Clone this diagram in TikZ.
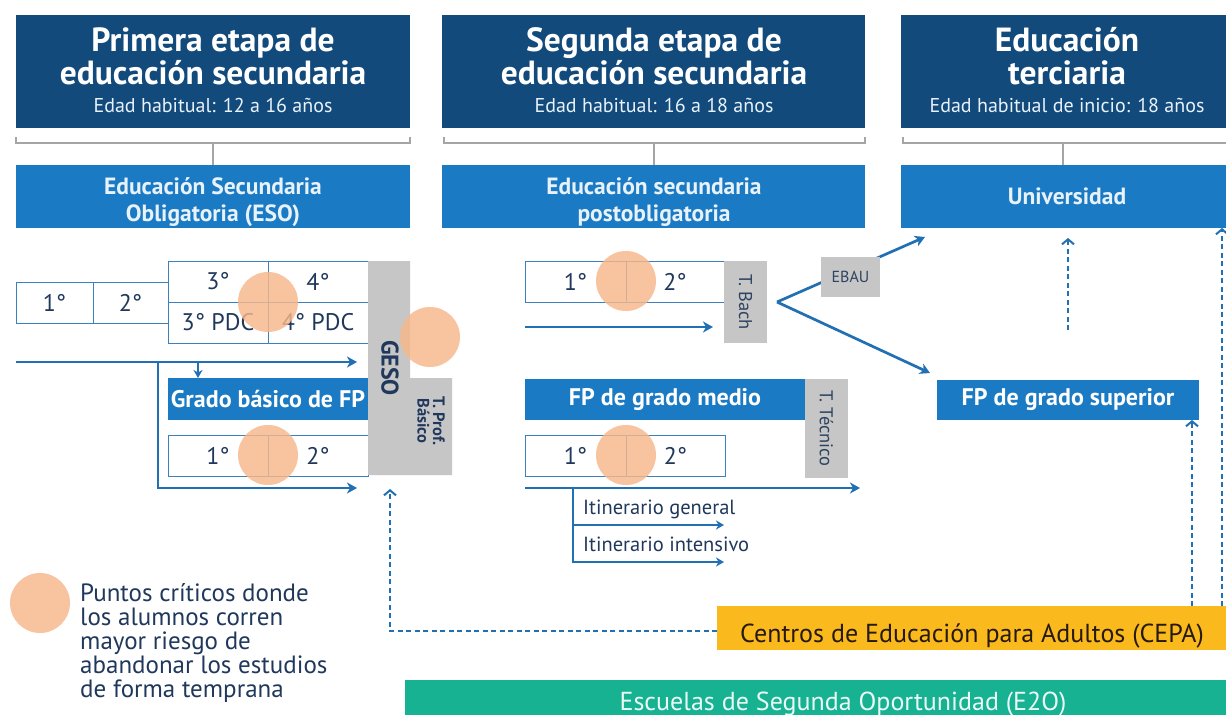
\documentclass[tikz,border=0pt]{standalone}
\usepackage{fontspec}
\setmainfont{PT Sans}
\usetikzlibrary{arrows.meta,calc}
\definecolor{navy}{RGB}{18,74,124}
\definecolor{mblue}{RGB}{27,122,196}
\definecolor{arrowblue}{RGB}{33,112,180}
\definecolor{cellline}{RGB}{60,128,192}
\definecolor{gbar}{RGB}{198,198,198}
\definecolor{corange}{RGB}{247,184,138}
\definecolor{cyellow}{RGB}{250,185,28}
\definecolor{cteal}{RGB}{22,178,146}
\definecolor{txtnavy}{RGB}{32,56,92}
\definecolor{brgray}{RGB}{165,165,165}
\definecolor{subtxt}{RGB}{232,242,250}
\newcommand\mybox[6]{%
  \node[#1, minimum width={(#5-#3)*1pt}, minimum height={(#6-#4)*1pt},
        anchor=north west, inner sep=0pt, outer sep=0pt] (#2) at (#3,#4) {};}
\begin{document}
\begin{tikzpicture}[x=1pt,y=-1pt,
  hdr/.style={fill=navy},
  sub/.style={fill=mblue},
  cell/.style={draw=cellline, line width=1pt, fill=white},
  gbox/.style={fill=gbar},
  flow/.style={draw=arrowblue, line width=2.7pt, -{Stealth[length=10pt,width=11pt,inset=3pt]}},
  sflow/.style={draw=arrowblue, line width=2.3pt, -{Stealth[length=8pt,width=9pt,inset=2.5pt]}},
  dflow/.style={draw=arrowblue, line width=1.8pt, dash pattern=on 5pt off 3.5pt,
        -{Straight Barb[length=5pt,width=12pt,line width=2pt]}},
  crit/.style={fill=corange, fill opacity=0.82},
  bracket/.style={draw=brgray, line width=1.5pt},
  ttl/.style={text=white, font=\bfseries\fontsize{33.5}{36}\selectfont, anchor=base, inner sep=0pt},
  age/.style={text=subtxt, font=\fontsize{20}{22}\selectfont, anchor=base, inner sep=0pt},
  subt/.style={text=subtxt, font=\bfseries\fontsize{23.5}{26}\selectfont, anchor=base, inner sep=0pt},
  btxt/.style={text=white, font=\bfseries\fontsize{24}{26}\selectfont, inner sep=0pt},
  ctxt/.style={text=txtnavy, font=\fontsize{24}{26}\selectfont, inner sep=0pt},
  rtxt/.style={text=txtnavy!85!gray, font=\fontsize{18.5}{20}\selectfont, rotate=-90, inner sep=0pt},
  itx/.style={text=txtnavy, font=\fontsize{20.5}{22}\selectfont, anchor=base west, inner sep=0pt},
  leg/.style={text=txtnavy, font=\fontsize{25}{27}\selectfont, anchor=base west, inner sep=0pt},
]
\useasboundingbox (0,0) rectangle (1226,715);
\fill[white] (0,0) rectangle (1226,715);

% ---------- headers ----------
\mybox{hdr}{h1}{16}{15}{410}{128}
\mybox{hdr}{h2}{442}{15}{865}{128}
\mybox{hdr}{h3}{901}{15}{1226}{128}
\node[ttl] (h1a) at (213,51) {Primera etapa de};
\node[ttl] (h1b) at (213,84) {educación secundaria};
\node[age] (h1c) at (213,112) {Edad habitual: 12 a 16 años};
\node[ttl] (h2a) at (654,51) {Segunda etapa de};
\node[ttl] (h2b) at (654,84) {educación secundaria};
\node[age] (h2c) at (654,112) {Edad habitual: 16 a 18 años};
\node[ttl] (h3a) at (1067,51) {Educación};
\node[ttl] (h3b) at (1067,84) {terciaria};
\node[age] (h3c) at (1067,112) {Edad habitual de inicio: 18 años};

% ---------- sub boxes ----------
\mybox{sub}{s1}{16}{165}{410}{228}
\mybox{sub}{s2}{442}{165}{865}{228}
\mybox{sub}{s3}{901}{165}{1226}{228}
\node[subt] (s1t) at (213,194) {Educación Secundaria};
\node[subt] (s1u) at (213,221) {Obligatoria (ESO)};
\node[subt] (s2t) at (654,194) {Educación secundaria};
\node[subt] (s2u) at (654,221) {postobligatoria};
\node[subt] (s3t) at (1067,204) {Universidad};

% ---------- brackets ----------
\draw[bracket] (16,137) -- (16,143) -- (410,143) -- (410,137);
\draw[bracket] (213,143) -- (s1.north -| 213,0);
\draw[bracket] (444,137) -- (444,143) -- (865,143) -- (865,137);
\draw[bracket] (654,143) -- (s2.north -| 654,0);
\draw[bracket] (903,137) -- (903,143) -- (1226,143);
\draw[bracket] (1063,143) -- (s3.north -| 1063,0);

% ---------- ESO grid ----------
\mybox{cell}{e1}{16}{282}{93}{323}
\mybox{cell}{e2}{93}{282}{168}{323}
\mybox{cell}{e3}{168}{261}{268}{302}
\mybox{cell}{e4}{268}{261}{368}{302}
\mybox{cell}{e3p}{168}{302}{268}{343}
\mybox{cell}{e4p}{268}{302}{368}{343}
\node[ctxt] at (e1) {1°};
\node[ctxt] at (e2) {2°};
\node[ctxt] at (e3) {3°};
\node[ctxt] at (e4) {4°};
\node[ctxt] at (e3p) {3° PDC};
\node[ctxt] at (e4p) {4° PDC};

% Grado basico
\mybox{sub}{gb}{168}{378}{368}{420}
\node[btxt] at (gb) {Grado básico de FP};
\mybox{cell}{g1}{168}{435}{268}{476}
\mybox{cell}{g2}{268}{435}{368}{476}
\node[ctxt] at (g1) {1°};
\node[ctxt] at (g2) {2°};

% GESO bar
\fill[gbar] (368,261) -- (410,261) -- (410,378) -- (452,378) -- (452,475) -- (368,475) -- cycle;
\node[text=txtnavy, font=\bfseries\fontsize{24}{26}\selectfont, rotate=-90, inner sep=0pt] (geso) at (390,368) {GESO};
\node[text=txtnavy, font=\bfseries\fontsize{16.5}{15.5}\selectfont, rotate=-90, align=center, inner sep=0pt] (tpb) at (431,421) {T. Prof.\\Básico};

% ESO flows
\coordinate (esoS) at (16,362);
\coordinate (esoE) at (357,362);
\coordinate (gbE) at (357,488);
\draw[flow] (esoS) -- (esoE);
\draw[flow] (158,362) |- (gbE);
\draw[sflow] (198,362) -- (gb.north -| 198,0);

% ---------- Bachillerato ----------
\mybox{cell}{b1}{525}{261}{626}{302}
\mybox{cell}{b2}{626}{261}{724}{302}
\mybox{gbox}{tb}{724}{261}{767}{343}
\node[ctxt] at (b1) {1°};
\node[ctxt] at (b2) {2°};
\node[rtxt] at (tb) {T. Bach};
\coordinate (bachS) at (525,327);
\coordinate (bachE) at (713,327);
\draw[flow] (bachS) -- (bachE);

% ---------- FP grado medio ----------
\mybox{sub}{fm}{525}{379}{805}{420}
\node[btxt] at (fm) {FP de grado medio};
\mybox{gbox}{tt}{805}{379}{848}{478}
\node[rtxt] at (tt) {T. Técnico};
\mybox{cell}{m1}{525}{435}{626}{476}
\mybox{cell}{m2}{626}{435}{725}{476}
\node[ctxt] at (m1) {1°};
\node[ctxt] at (m2) {2°};
\coordinate (fmS) at (525,488);
\coordinate (fmE) at (860,488);
\draw[flow] (fmS) -- (fmE);
\coordinate (itG) at (724,525);
\coordinate (itI) at (724,562);
\draw[sflow] (573,488) |- (itI);
\draw[sflow] (573,525) -- (itG);
\node[itx] (itg) at (583,514) {Itinerario general};
\node[itx] (iti) at (583,551) {Itinerario intensivo};

% ---------- tertiary ----------
\mybox{sub}{fs}{937}{380}{1199}{420}
\node[btxt] at (fs) {FP de grado superior};
\coordinate (split) at (777,302);
\coordinate (toUni) at (925,237);
\coordinate (toFS) at (930,373);
\draw[flow] (split) -- (toUni);
\draw[flow] (split) -- (toFS);
\mybox{gbox}{ebau}{821}{257}{880}{297}
\node[text=txtnavy!85!gray, font=\fontsize{16}{18}\selectfont, inner sep=0pt] at (ebau) {EBAU};

% ---------- CEPA / E2O ----------
\mybox{fill=cyellow}{cepa}{717}{606}{1226}{650}
\node[text=black!80!brown, font=\fontsize{26}{28}\selectfont, anchor=base, inner sep=0pt] (cepat) at (972,642) {Centros de Educación para Adultos (CEPA)};
\mybox{fill=cteal}{e2o}{405}{680}{1226}{715}
\node[text=white!92!cteal, font=\fontsize{26}{28}\selectfont, anchor=base, inner sep=0pt] (e2ot) at (843,710) {Escuelas de Segunda Oportunidad (E2O)};

% dashed arrows
\coordinate (uniUp) at (1068,238);
\draw[dflow] (1068,330) -- (uniUp);
\draw[dflow] (cepa.north -| 1192,0) -- (fs.south -| 1192,0);
\draw[dflow] (cepa.north -| 1222,0) -- (s3.south -| 1222,0);
\coordinate (gesoUp) at (390,489);
\draw[dflow] ($(cepa.west)+(0,3)$) -| (gesoUp);

% ---------- critical points ----------
\fill[crit] (268,302) circle (30);
\fill[crit] (430,337) circle (30);
\fill[crit] (268,455) circle (30);
\fill[crit] (626,281) circle (30);
\fill[crit] (626,455) circle (30);

% ---------- legend ----------
\fill[crit] (40,603) circle (30);
\node[leg] (leg1) at (80,601) {Puntos críticos donde};
\node[leg] (leg2) at (80,625) {los alumnos corren};
\node[leg] (leg3) at (80,649) {mayor riesgo de};
\node[leg] (leg4) at (80,673) {abandonar los estudios};
\node[leg] (leg5) at (80,697) {de forma temprana};
\end{tikzpicture}
\end{document}
